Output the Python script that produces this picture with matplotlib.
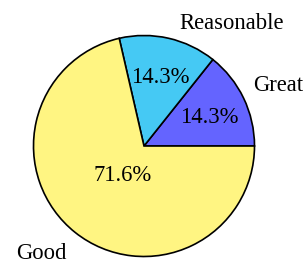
import numpy as np
import matplotlib.pyplot as plt

# Data
labels = ["Great", "Reasonable", "Good"]
values = [14.3, 14.3, 71.4]
pct_text = ["14.3%", "14.3%", "71.6%"]
colors = ["#6464FF", "#45C9F4", "#FFF582"]

plt.rcParams['font.family'] = ['Liberation Serif', 'DejaVu Serif']

fig = plt.figure(figsize=(3.07, 2.64), dpi=100)
# pie centre at (144, 146) px, radius ~110 px
R = 110.5
cx, cy = 144 / 307, 1 - 146 / 264
ax = fig.add_axes([cx - R / 307, cy - R / 264, 2 * R / 307, 2 * R / 264])

wedges, texts, autotexts = ax.pie(
    values, labels=labels, colors=colors, startangle=0, counterclock=True,
    autopct="%1.1f%%", pctdistance=0.66, labeldistance=1.15,
    wedgeprops=dict(edgecolor="black", linewidth=1.2),
    textprops=dict(fontsize=16.3, color="black"))

for t, s in zip(autotexts, pct_text):
    t.set_text(s)

# label placement as in the original
label_pos = [(0.99, 0.55, "left"), (0.317, 1.105, "left"), (-0.70, -0.975, "right")]
for t, (lx, ly, ha) in zip(texts, label_pos):
    t.set_position((lx, ly))
    t.set_ha(ha)
    t.set_va("center")

# the big slice's percentage sits closer to the centre
x, y = autotexts[2].get_position()
autotexts[2].set_position((x * 0.31 / 0.66, y * 0.31 / 0.66))
for t in autotexts:
    x, y = t.get_position()
    t.set_position((x, y - 0.025))

ax.set_xlim(-1, 1)
ax.set_ylim(-1, 1)
ax.set_aspect("equal")
ax.axis("off")

fig.savefig("out.png", dpi=100)
